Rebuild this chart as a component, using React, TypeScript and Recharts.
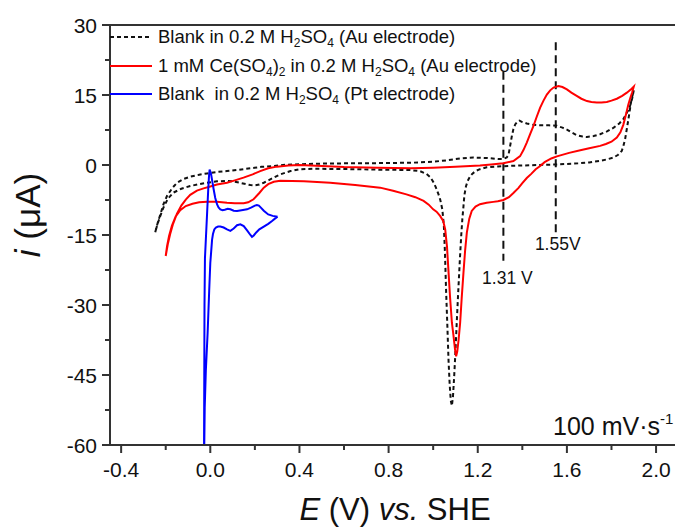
import React from 'react';
import { LineChart, Line, XAxis, YAxis, ReferenceLine, Legend, Customized } from 'recharts';

const FONT = "'Liberation Sans', Arial, Helvetica, sans-serif";

// Blank in 0.2 M H2SO4 (Au electrode) — positive-going scan
const blankAuAnodicE = [-0.247,-0.235,-0.224,-0.21,-0.194,-0.17,-0.149,-0.12,-0.09,-0.05,-0.015,0.03,0.075,0.13,0.18,0.23,0.284,0.34,0.4,0.5,0.61,0.75,0.91,1.0,1.06,1.12,1.18,1.24,1.29,1.315,1.33,1.338,1.345,1.353,1.36,1.368,1.378,1.387,1.4,1.42,1.45,1.48,1.52,1.555,1.58,1.6,1.62,1.644,1.67,1.69,1.72,1.749,1.78,1.81,1.835,1.853,1.87,1.883,1.893,1.9];
const blankAuAnodicI = [-14.4,-12.2,-10.6,-8.4,-6.6,-4.9,-3.8,-3.0,-2.5,-2.1,-1.8,-1.5,-1.3,-1.0,-0.7,-0.4,-0.2,0.05,0.15,0.3,0.36,0.4,0.5,0.7,1.0,1.4,1.6,1.5,1.3,1.3,1.6,2.2,4.0,6.2,7.7,8.7,9.3,9.5,9.2,8.9,8.6,8.5,8.5,8.4,8.0,7.6,7.0,6.4,6.1,6.0,6.2,6.6,7.2,8.0,8.9,9.8,11.3,12.6,14.3,16.0];
// negative-going scan
const blankAuCathodicE = [1.895,1.89,1.883,1.876,1.868,1.861,1.853,1.846,1.83,1.81,1.78,1.75,1.7,1.65,1.55,1.47,1.4,1.34,1.29,1.24,1.21,1.19,1.175,1.166,1.155,1.147,1.14,1.136,1.131,1.126,1.12,1.113,1.106,1.099,1.094,1.089,1.084,1.079,1.074,1.069,1.064,1.058,1.053,1.048,1.041,1.032,1.024,1.012,1.0,0.987,0.97,0.94,0.9,0.85,0.76,0.65,0.55,0.46,0.4,0.36,0.314,0.284,0.26,0.24,0.22,0.2,0.18,0.16,0.136,0.1,0.075,0.03,-0.015,-0.05,-0.09,-0.13,-0.165,-0.19,-0.21,-0.225,-0.237,-0.247];
const blankAuCathodicI = [15.0,14.1,12.0,9.8,7.5,5.5,4.0,3.0,2.2,1.6,1.2,0.9,0.55,0.35,0.1,0.0,-0.1,-0.2,-0.3,-0.5,-0.9,-1.3,-1.9,-2.4,-3.4,-4.6,-6.5,-8.8,-11.5,-15,-20,-26.6,-33.5,-40.9,-45.5,-49.5,-51.6,-50.5,-47,-42,-35,-27,-19,-13,-9.5,-7.5,-6.3,-4.8,-3.6,-2.6,-1.9,-1.3,-1.1,-1.05,-1.0,-0.9,-0.85,-0.8,-0.9,-1.3,-2.0,-2.7,-3.3,-3.8,-4.2,-4.35,-4.3,-4.1,-3.85,-3.5,-3.4,-3.5,-3.8,-4.1,-4.5,-5.1,-5.9,-7.2,-9.1,-11.0,-12.7,-14.4];

// 1 mM Ce(SO4)2 in 0.2 M H2SO4 (Au electrode)
const ceAnodicE = [-0.2,-0.19,-0.18,-0.167,-0.15,-0.13,-0.11,-0.09,-0.06,-0.03,0.0,0.03,0.075,0.11,0.149,0.19,0.224,0.26,0.299,0.35,0.4,0.5,0.6,0.75,0.9,1.0,1.1,1.21,1.26,1.315,1.36,1.39,1.405,1.42,1.435,1.45,1.465,1.48,1.495,1.51,1.525,1.54,1.562,1.58,1.6,1.62,1.644,1.665,1.69,1.71,1.734,1.755,1.779,1.8,1.824,1.848,1.869,1.885,1.9];
const ceAnodicI = [-19.5,-16.8,-14.8,-12.6,-10.5,-8.7,-7.4,-6.4,-5.5,-5.0,-4.6,-4.2,-3.8,-3.3,-2.7,-2.0,-1.3,-0.7,-0.35,-0.1,0.0,-0.2,-0.45,-0.6,-0.7,-0.6,-0.4,-0.1,0.1,0.36,0.86,1.9,3.2,4.8,6.6,8.4,10.4,12.3,13.8,15.1,16.0,16.6,16.9,16.7,16.2,15.5,14.8,14.2,13.7,13.5,13.4,13.4,13.5,13.8,14.2,14.8,15.5,16.1,16.8];
const ceCathodicE = [1.893,1.884,1.876,1.865,1.853,1.84,1.824,1.8,1.775,1.749,1.7,1.66,1.61,1.555,1.53,1.5,1.48,1.46,1.44,1.42,1.4,1.383,1.36,1.34,1.315,1.29,1.27,1.24,1.21,1.19,1.173,1.162,1.151,1.143,1.136,1.128,1.121,1.114,1.108,1.103,1.098,1.091,1.084,1.076,1.069,1.062,1.054,1.045,1.031,1.015,1.0,0.98,0.957,0.92,0.88,0.82,0.762,0.65,0.538,0.42,0.314,0.285,0.26,0.24,0.22,0.194,0.17,0.15,0.11,0.075,0.03,-0.015,-0.05,-0.08,-0.11,-0.135,-0.155,-0.172,-0.185,-0.194,-0.2];
const ceCathodicI = [15.6,14.3,13.0,10.8,8.6,7.0,5.9,5.0,4.5,4.1,3.6,3.15,2.6,1.85,1.4,0.6,-0.2,-0.9,-1.9,-2.8,-3.9,-4.9,-6.0,-6.9,-7.5,-7.75,-7.9,-8.1,-8.4,-8.9,-9.85,-11.5,-14.5,-18.5,-23,-28.5,-33.8,-37.5,-40.0,-41.0,-39.5,-36.5,-33.8,-28.5,-23,-17.5,-13.8,-12.0,-10.9,-10.0,-9.5,-8.5,-7.7,-6.9,-6.3,-5.5,-4.85,-4.3,-3.8,-3.5,-3.4,-3.6,-4.1,-4.85,-6.0,-7.35,-8.0,-8.2,-8.2,-8.1,-7.9,-7.85,-8.0,-8.3,-8.8,-9.7,-11.0,-13.0,-15.2,-17.4,-19.5];

// Blank in 0.2 M H2SO4 (Pt electrode)
const blankPtE = [0.302,0.29,0.277,0.26,0.24,0.22,0.205,0.195,0.187,0.18,0.165,0.15,0.135,0.12,0.105,0.09,0.075,0.06,0.045,0.035,0.025,0.018,0.012,0.008,0.004,0.0,-0.005,-0.012,-0.02,-0.025,-0.027,-0.028,-0.029,-0.028,-0.027,-0.026,-0.024,-0.02,-0.014,-0.009,-0.006,-0.003,0.003,0.009,0.015,0.022,0.03,0.037,0.045,0.055,0.065,0.078,0.09,0.105,0.12,0.14,0.165,0.185,0.2,0.209,0.218,0.228,0.24,0.26,0.28,0.302];
const blankPtI = [-11.1,-11.5,-12.0,-12.6,-13.2,-13.8,-14.5,-15.1,-15.4,-15.0,-14.0,-13.1,-12.7,-12.9,-13.6,-14.1,-13.8,-13.4,-13.2,-13.2,-13.4,-13.8,-14.8,-16.0,-18.5,-21,-27,-36,-44,-52,-60,-70,-65,-60,-45,-30,-20,-16,-10,-5,-2.5,-1.0,-1.8,-3.5,-5.2,-7.0,-8.4,-9.1,-9.5,-9.7,-9.6,-9.4,-9.5,-9.8,-9.85,-9.7,-9.5,-9.1,-8.7,-8.6,-8.7,-9.2,-9.8,-10.6,-10.9,-11.1];

const xTicks = [-0.4,-0.2,0,0.2,0.4,0.6,0.8,1.0,1.2,1.4,1.6,1.8,2.0];
const xMajorTicks = [-0.4,0,0.4,0.8,1.2,1.6,2.0];
const yTicks = [-60,-52.5,-45,-37.5,-30,-22.5,-15,-7.5,0,7.5,15,22.5,30];
const yMajorTicks = [-60,-45,-30,-15,0,15,30];
const markerE = [1.315, 1.55];
const markerLabels = ['1.31 V', '1.55V'];
const markerTop = [20, 26.3];
const markerBottom = [-20.5, -14.4];

const toPoints = (es: number[], is: number[]) => es.map((e, k) => ({ E: e, I: is[k] }));
const blankAuData = [...toPoints(blankAuAnodicE, blankAuAnodicI), ...toPoints(blankAuCathodicE, blankAuCathodicI)];
const ceData = [...toPoints(ceAnodicE, ceAnodicI), ...toPoints(ceCathodicE, ceCathodicI)];
const blankPtData = toPoints(blankPtE, blankPtI);

const AXIS = '#333';
const isIn = (arr: number[], v: number) => arr.some((a) => Math.abs(a - v) < 1e-6);

const XTick = (props: any) => {
  const { x, y, payload } = props;
  const major = isIn(xMajorTicks, payload.value);
  return (
    <g>
      <line x1={x} x2={x} y1={y} y2={y + (major ? 8 : 5)} stroke={AXIS} strokeWidth={2} />
      {major && (
        <text x={x} y={y + 32} textAnchor="middle" fontSize={21} fontFamily={FONT} fill="#111">
          {Number(payload.value).toFixed(1)}
        </text>
      )}
    </g>
  );
};

const YTick = (props: any) => {
  const { x, y, payload } = props;
  const major = isIn(yMajorTicks, payload.value);
  return (
    <g>
      <line x1={x} x2={x - (major ? 8 : 5)} y1={y} y2={y} stroke={AXIS} strokeWidth={2} />
      {major && (
        <text x={x - 13} y={y + 7.5} textAnchor="end" fontSize={21} fontFamily={FONT} fill="#111">
          {payload.value}
        </text>
      )}
    </g>
  );
};

const subStyle: React.CSSProperties = { fontSize: 12, verticalAlign: '-4px', lineHeight: 0 };

const legendRows = [
  {
    color: '#111', dash: '4 3', center: 37,
    label: <>Blank in 0.2 M H<sub style={subStyle}>2</sub>SO<sub style={subStyle}>4</sub> (Au electrode)</>,
  },
  {
    color: '#ff0000', dash: undefined, center: 65.5,
    label: <>1 mM Ce(SO<sub style={subStyle}>4</sub>)<sub style={subStyle}>2</sub> in 0.2 M H<sub style={subStyle}>2</sub>SO<sub style={subStyle}>4</sub> (Au electrode)</>,
  },
  {
    color: '#0000ff', dash: undefined, center: 94,
    label: <>Blank  in 0.2 M H<sub style={subStyle}>2</sub>SO<sub style={subStyle}>4</sub> (Pt electrode)</>,
  },
];

const renderLegend = () => (
  <div style={{ position: 'relative', width: 675, height: 110 }}>
    {legendRows.map((r, k) => (
      <React.Fragment key={k}>
        <svg style={{ position: 'absolute', left: 110, top: r.center - 3 }} width={42} height={6}>
          <line x1={0} x2={42} y1={3} y2={3} stroke={r.color} strokeWidth={2} strokeDasharray={r.dash} />
        </svg>
        <div
          style={{
            position: 'absolute', left: 158, top: r.center - 11, lineHeight: '21px',
            fontSize: 18.5, fontFamily: FONT, color: '#111', whiteSpace: 'pre',
          }}
        >
          {r.label}
        </div>
      </React.Fragment>
    ))}
  </div>
);

const markerLabel = (text: string, dy: number, dx: number) => (p: any) => {
  const vb = p.viewBox || {};
  const x = (vb.x ?? 0) + (vb.width ?? 0) / 2 + dx;
  const y = (vb.y ?? 0) + (vb.height ?? 0) + dy;
  return (
    <text x={x} y={y} textAnchor="middle" fontSize={17.5} fontFamily={FONT} fill="#111">
      {text}
    </text>
  );
};

const ScanRate = () => (
  <text x={553} y={435} fontSize={25} fontFamily={FONT} fill="#111">
    100 mV·s<tspan fontSize={15} dy={-11}>-1</tspan>
  </text>
);

export default function App() {
  return (
    <div style={{ position: 'absolute', left: 0, top: 0, width: 675, height: 527, overflow: 'hidden', background: '#fff' }}>
      <LineChart width={675} height={527} margin={{ top: 25, right: 0, bottom: 0, left: 0 }}>
        <XAxis
          type="number"
          dataKey="E"
          domain={[-0.45, 2.085]}
          allowDataOverflow
          ticks={xTicks}
          interval={0}
          tickSize={0}
          tickMargin={0}
          tickLine={false}
          tick={<XTick />}
          height={82}
          axisLine={{ stroke: AXIS, strokeWidth: 2 }}
          label={() => (
            <text x={395} y={520} textAnchor="middle" fontSize={31} fontFamily={FONT} fill="#111">
              <tspan fontStyle="italic">E</tspan> (V) <tspan fontStyle="italic">vs.</tspan> SHE
            </text>
          )}
        />
        <YAxis
          type="number"
          domain={[-60, 30]}
          allowDataOverflow
          ticks={yTicks}
          interval={0}
          tickSize={0}
          tickMargin={0}
          tickLine={false}
          tick={<YTick />}
          width={110}
          axisLine={{ stroke: AXIS, strokeWidth: 2 }}
          label={() => (
            <text x={40} y={215} transform="rotate(-90 40 215)" textAnchor="middle" fontSize={35} fontFamily={FONT} fill="#111">
              <tspan fontStyle="italic">i</tspan> (μA)
            </text>
          )}
        />
        <ReferenceLine y={30} stroke={AXIS} strokeWidth={2} />
        {markerE.map((e, k) => (
          <ReferenceLine
            key={k}
            segment={[{ x: e, y: markerTop[k] }, { x: e, y: markerBottom[k] }]}
            stroke="#111"
            strokeWidth={2}
            strokeDasharray="8 5"
            label={markerLabel(markerLabels[k], k === 0 ? 23 : 18, k === 0 ? 4 : 2)}
          />
        ))}
        <Line
          data={blankAuData}
          dataKey="I"
          name="Blank Au"
          type="linear"
          stroke="#111"
          strokeWidth={2}
          strokeDasharray="4 3"
          dot={false}
          activeDot={false}
          isAnimationActive={false}
        />
        <Line
          data={ceData}
          dataKey="I"
          name="Ce Au"
          type="linear"
          stroke="#ff0000"
          strokeWidth={2}
          dot={false}
          activeDot={false}
          isAnimationActive={false}
        />
        <Line
          data={blankPtData}
          dataKey="I"
          name="Blank Pt"
          type="linear"
          stroke="#0000ff"
          strokeWidth={2}
          dot={false}
          activeDot={false}
          isAnimationActive={false}
        />
        <Legend
          content={renderLegend}
          layout="vertical"
          align="center"
          verticalAlign="middle"
          wrapperStyle={{ left: 0, top: 0, width: 675, height: 110 }}
        />
        <Customized component={<ScanRate />} />
      </LineChart>
    </div>
  );
}
